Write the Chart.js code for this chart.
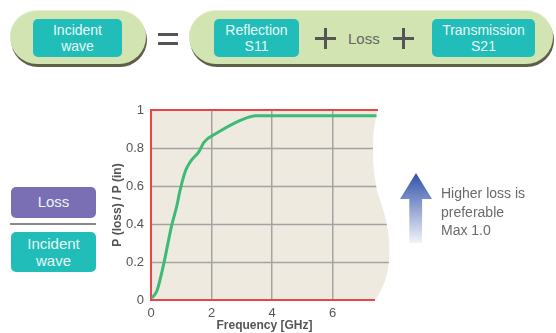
<!DOCTYPE html>
<html>
<head>
<meta charset="utf-8">
<script src="https://cdn.jsdelivr.net/npm/chart.js@4.4.1/dist/chart.umd.min.js"></script>
<style>
  html, body { margin: 0; padding: 0; background: #fff; }
  body { width: 556px; height: 333px; position: relative; overflow: hidden;
         font-family: "Liberation Sans", Arial, sans-serif; }
  .pill { position: absolute; background: #d2e4b1; border-radius: 27px;
          box-shadow: 1px 3px 0 #5f5f48; border-top: 1px solid #e6f0d4; }
  .box { position: absolute; color: #e9f8f6; font-size: 14px; line-height: 16.5px;
         text-align: center; border-radius: 5px; display: flex; align-items: center;
         justify-content: center; }
  .teal { background: #20bdb9; }
  .purple { background: #7a6fb4; }
  .sym { position: absolute; background: #555; }
  #chartWrap { position: absolute; left: 100px; top: 95px; width: 310px; height: 238px; }
  #arrow { position: absolute; left: 400px; top: 173px; width: 32px; height: 70px;
           background: linear-gradient(#2f51a8, #f2f4fb);
           clip-path: polygon(50% 0, 100% 37%, 69% 37%, 69% 100%, 29% 100%, 29% 37%, 0 37%); }
  #note { position: absolute; left: 441px; top: 184px; font-size: 14px; line-height: 18.5px; color: #6a6a6a; }
</style>
</head>
<body>
  <div class="pill" style="left:10px;top:10px;width:136px;height:53px;"></div>
  <div class="box teal" style="left:33px;top:19px;width:89px;height:38px;">Incident<br>wave</div>

  <div class="sym" style="left:158px;top:33px;width:20px;height:3px;"></div>
  <div class="sym" style="left:158px;top:42px;width:20px;height:3px;"></div>

  <div class="pill" style="left:189px;top:10px;width:364px;height:53px;"></div>
  <div class="box teal" style="left:214px;top:19px;width:85px;height:38px;">Reflection<br>S11</div>
  <div class="sym" style="left:315px;top:37px;width:21px;height:3px;"></div>
  <div class="sym" style="left:324px;top:28px;width:3px;height:21px;"></div>
  <div style="position:absolute;left:348px;top:30px;font-size:15px;color:#666;">Loss</div>
  <div class="sym" style="left:393px;top:37px;width:21px;height:3px;"></div>
  <div class="sym" style="left:402px;top:28px;width:3px;height:21px;"></div>
  <div class="box teal" style="left:432px;top:19px;width:103px;height:38px;">Transmission<br>S21</div>

  <div class="box purple" style="left:11px;top:187px;width:85px;height:31px;font-size:15px;">Loss</div>
  <div style="position:absolute;left:10px;top:223px;width:86px;height:2px;background:#8a8a8a;"></div>
  <div class="box teal" style="left:11px;top:232px;width:85px;height:40px;font-size:15px;line-height:17px;">Incident<br>wave</div>

  <div id="chartWrap"><canvas id="lossChart"></canvas></div>

  <div id="arrow"></div>
  <div id="note">Higher loss is<br>preferable<br>Max 1.0</div>

<script>
const freqGHz = [0.03, 0.2, 0.42, 0.68, 0.86, 0.95, 1.14, 1.31, 1.58, 1.75, 2.19, 2.74, 3.18, 3.45, 7.45];
const lossRatio = [0.01, 0.05, 0.19, 0.39, 0.5, 0.57, 0.68, 0.73, 0.78, 0.83, 0.88, 0.93, 0.96, 0.97, 0.97];
const xTicks = [0, 2, 4, 6];
const yTicks = [0, 0.2, 0.4, 0.6, 0.8, 1];
const yTickLabels = ["0", "0.2", "0.4", "0.6", "0.8", "1"];

const TEXT = "#555";
const GRID = "#a3a3a3";
const RED = "#e8454a";

// wavy right edge of the plot background, relative to chartArea
function wavyPath(ctx, a) {
  const R = a.right, T = a.top, B = a.bottom;
  ctx.beginPath();
  ctx.moveTo(a.left, T);
  ctx.lineTo(R, T);
  ctx.bezierCurveTo(R - 7, T + 20, R - 7, T + 65, R + 2, T + 90);
  ctx.bezierCurveTo(R + 11, T + 115, R + 20, T + 160, R - 3, B);
  ctx.lineTo(a.left, B);
  ctx.closePath();
}

const plotFrame = {
  id: "plotFrame",
  beforeDraw(chart) {
    const { ctx, chartArea: a } = chart;
    ctx.save();
    wavyPath(ctx, a);
    ctx.fillStyle = "#eeeae0";
    ctx.fill();
    ctx.restore();
  },
  beforeDatasetsDraw(chart) {
    const { ctx, chartArea: a, scales } = chart;
    ctx.save();
    wavyPath(ctx, a);
    ctx.clip();
    ctx.strokeStyle = GRID;
    ctx.lineWidth = 1.5;
    for (const v of yTicks) {
      if (v === 0 || v === 1) continue;
      const y = Math.round(scales.y.getPixelForValue(v)) + 0.5;
      ctx.beginPath();
      ctx.moveTo(a.left, y);
      ctx.lineTo(a.right + 30, y);
      ctx.stroke();
    }
    ctx.restore();

    ctx.save();
    ctx.strokeStyle = RED;
    ctx.lineWidth = 2;
    const yTop = scales.y.getPixelForValue(1);
    const yBot = scales.y.getPixelForValue(0);
    ctx.beginPath();
    ctx.moveTo(a.left, yTop);
    ctx.lineTo(a.right, yTop);
    ctx.moveTo(a.left, yTop - 1);
    ctx.lineTo(a.left, yBot + 1);
    ctx.moveTo(a.left, yBot);
    ctx.lineTo(a.right - 3, yBot);
    ctx.stroke();
    ctx.restore();
  },
};

new Chart(document.getElementById("lossChart"), {
  type: "line",
  data: {
    datasets: [
      {
        data: freqGHz.map((f, i) => ({ x: f, y: lossRatio[i] })),
        borderColor: "#3dba75",
        borderWidth: 3,
        pointRadius: 0,
        cubicInterpolationMode: "monotone",
        fill: false,
      },
    ],
  },
  options: {
    responsive: true,
    maintainAspectRatio: false,
    animation: false,
    layout: { padding: { top: 15, right: 32, left: 0, bottom: 0 } },
    plugins: { legend: { display: false }, tooltip: { enabled: false } },
    scales: {
      x: {
        type: "linear",
        min: 0,
        max: 7.5,
        afterBuildTicks: (s) => { s.ticks = xTicks.map((v) => ({ value: v })); },
        afterFit: (s) => { s.height = 33; },
        ticks: { color: TEXT, font: { size: 13 }, padding: 6 },
        grid: {
          drawTicks: false,
          color: (c) => (c.tick && c.tick.value === 0 ? "rgba(0,0,0,0)" : GRID),
          lineWidth: 1.5,
        },
        border: { display: false },
        title: {
          display: true,
          text: "Frequency [GHz]",
          color: TEXT,
          font: { size: 12, weight: "bold" },
          padding: { top: 0, bottom: 0 },
        },
      },
      y: {
        min: 0,
        max: 1,
        afterBuildTicks: (s) => { s.ticks = yTicks.map((v) => ({ value: v })); },
        afterFit: (s) => { s.width = 51; },
        ticks: {
          color: TEXT,
          font: { size: 13 },
          padding: 7,
          callback: (v, i) => yTickLabels[i],
        },
        grid: { display: false, drawTicks: false },
        border: { display: false },
        title: {
          display: true,
          text: "P (loss) / P (in)",
          color: TEXT,
          font: { size: 12, weight: "bold" },
          padding: { top: 10, bottom: 0 },
        },
      },
    },
  },
  plugins: [plotFrame],
});
</script>
</body>
</html>
